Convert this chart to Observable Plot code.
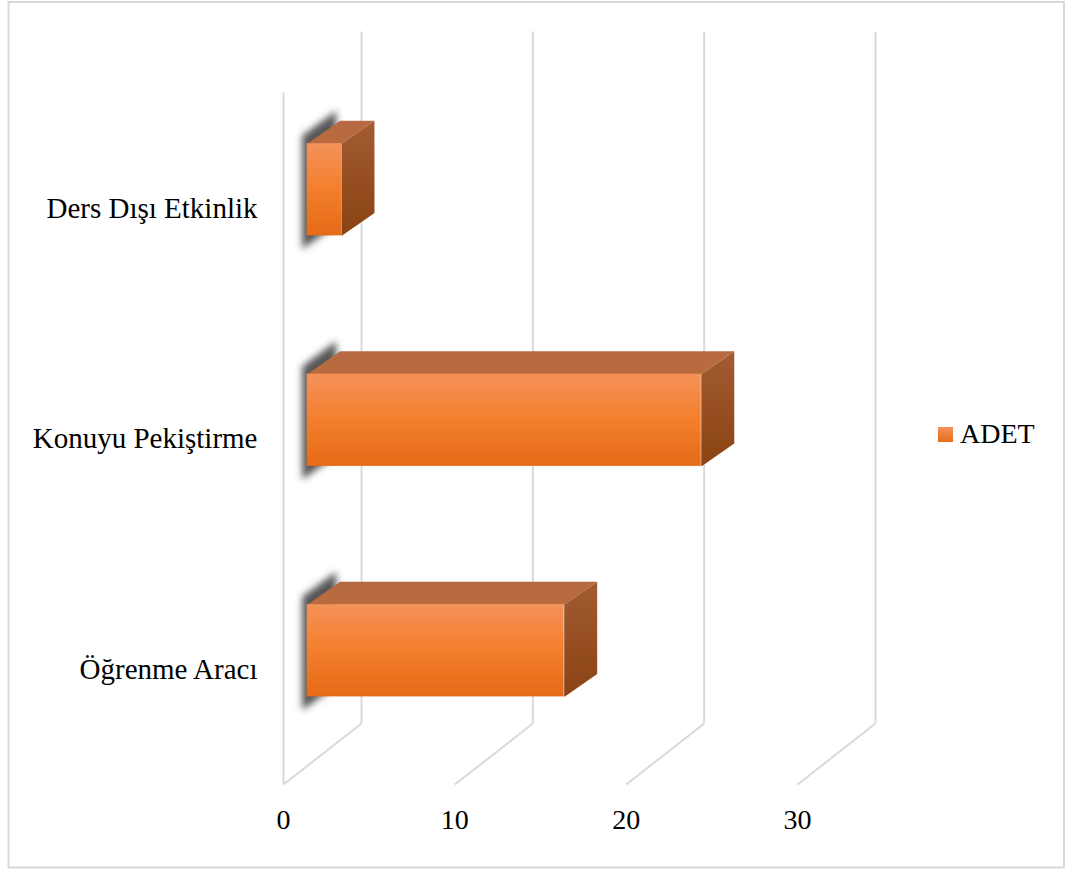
<!DOCTYPE html>
<html>
<head>
<meta charset="utf-8">
<script src="https://cdn.jsdelivr.net/npm/d3@7"></script>
<script src="https://cdn.jsdelivr.net/npm/@observablehq/plot@0.6"></script>
<style>
  html, body { margin: 0; padding: 0; background: #fff; }
  #chart { position: relative; width: 1066px; height: 870px; font-family: "Liberation Serif", "Times New Roman", serif; }
  #legend { position: absolute; left: 938px; top: 418px; display: flex; align-items: center; gap: 7px; font-size: 28px; color: #000; }
  #legend .swatch { width: 15px; height: 15px; background: linear-gradient(#F3915A, #E86D1B); }
</style>
</head>
<body>
<div id="chart">
  <div id="legend"><span class="swatch"></span><span class="name"></span></div>
</div>
<script>
// Categories and counts
const categories = ["Ders Dışı Etkinlik", "Konuyu Pekiştirme", "Öğrenme Aracı"];
const values = [2, 23, 15];
const seriesName = "ADET";
const xTicks = [0, 10, 20, 30];

// Oblique 3D projection: pixel offsets for the depth axis
const X_RANGE = [283, 797], X_DOMAIN = [0, 30];
const Y_RANGE = [207.8, 668.8], Y_DOMAIN = [0, 2];
const PX_X = (X_RANGE[1] - X_RANGE[0]) / (X_DOMAIN[1] - X_DOMAIN[0]);
const PX_Y = (Y_RANGE[1] - Y_RANGE[0]) / (Y_DOMAIN[1] - Y_DOMAIN[0]);
const WALL = [78, -61];        // back wall depth offset
const FRONT = [23.7, -18.5];   // bar front face depth offset
const BACK = [56.7, -41.5];    // bar back face depth offset
const HALF = 0.2;              // half bar thickness (rows)
const ROW_MIN = -0.5, ROW_MAX = 2.5;

const P = (value, row, off) => ({x: value + off[0] / PX_X, y: row + off[1] / PX_Y});

const rows = categories.map((cat, i) => ({cat, value: values[i], row: i}));

const topFaces = rows.flatMap(d => [
  P(0, d.row - HALF, FRONT), P(d.value, d.row - HALF, FRONT),
  P(d.value, d.row - HALF, BACK), P(0, d.row - HALF, BACK)
].map(p => ({...p, id: d.cat})));

const sideFaces = rows.flatMap(d => [
  P(d.value, d.row - HALF, FRONT), P(d.value, d.row - HALF, BACK),
  P(d.value, d.row + HALF, BACK), P(d.value, d.row + HALF, FRONT)
].map(p => ({...p, id: d.cat})));

// soft shadow cast to the left of each bar
const shadows = rows.flatMap(d => [
  P(0, d.row - HALF, [FRONT[0] - 5, FRONT[1] - 8]),
  P(0, d.row - HALF, [BACK[0] - 4, BACK[1] - 10]),
  P(0, d.row + HALF, [BACK[0] - 4, BACK[1] + 12]),
  P(0, d.row + HALF, [FRONT[0] - 5, FRONT[1] + 13])
].map(p => ({...p, id: d.cat})));

const defs = () => {
  const g = d3.create("svg:g");
  g.html(`
    <defs>
      <linearGradient id="gFront" x1="0" y1="0" x2="0" y2="1">
        <stop offset="0" stop-color="#F4925A"/>
        <stop offset="0.5" stop-color="#F47E2C"/>
        <stop offset="1" stop-color="#E46B18"/>
      </linearGradient>
      <linearGradient id="gTop" x1="0" y1="0" x2="0" y2="1">
        <stop offset="0" stop-color="#B66A42"/>
        <stop offset="1" stop-color="#BA6A3E"/>
      </linearGradient>
      <linearGradient id="gSide" x1="0" y1="0" x2="0" y2="1">
        <stop offset="0" stop-color="#A35B33"/>
        <stop offset="1" stop-color="#8A4312"/>
      </linearGradient>
      <filter id="shadowBlur" x="-60%" y="-60%" width="220%" height="220%">
        <feGaussianBlur stdDeviation="3.8"/>
      </filter>
    </defs>`);
  return g.node();
};

const gridStyle = {stroke: "#d9d9d9", strokeWidth: 2};

const plot = Plot.plot({
  width: 1066,
  height: 870,
  margin: 0,
  x: {domain: X_DOMAIN, range: X_RANGE, axis: null},
  y: {domain: Y_DOMAIN, range: Y_RANGE, axis: null},
  style: {fontFamily: "'Liberation Serif', 'Times New Roman', serif", color: "#000", background: "transparent"},
  marks: [
    defs,
    Plot.frame({stroke: "#d9d9d9", strokeWidth: 2, insetLeft: 8, insetTop: 1.5, insetRight: 2.5, insetBottom: 3}),
    // left wall edge
    Plot.ruleX([0], {x: d => d, y1: () => ROW_MIN, y2: () => ROW_MAX, ...gridStyle}),
    // back wall gridlines
    Plot.ruleX(xTicks, {
      x: t => P(t, 0, WALL).x,
      y1: () => P(0, ROW_MIN, WALL).y,
      y2: () => P(0, ROW_MAX, WALL).y,
      ...gridStyle
    }),
    // floor gridlines
    Plot.link(xTicks, {
      x1: t => t, y1: () => ROW_MAX,
      x2: t => P(t, ROW_MAX, WALL).x, y2: t => P(t, ROW_MAX, WALL).y,
      ...gridStyle
    }),
    // bar shadows (first line mark)
    Plot.line(shadows, {x: "x", y: "y", z: "id", curve: "linear-closed", fill: "#444", fillOpacity: 0.9, stroke: "none"}),
    // bar top faces
    Plot.line(topFaces, {x: "x", y: "y", z: "id", curve: "linear-closed", fill: "url(#gTop)", stroke: "none"}),
    // bar side faces
    Plot.line(sideFaces, {x: "x", y: "y", z: "id", curve: "linear-closed", fill: "url(#gSide)", stroke: "none"}),
    // bar front faces
    Plot.rect(rows, {
      x1: () => 0, x2: "value",
      y1: d => d.row - HALF, y2: d => d.row + HALF,
      dx: FRONT[0], dy: FRONT[1],
      fill: "url(#gFront)"
    }),
    // category labels
    Plot.text(rows, {x: () => 0, y: "row", text: "cat", textAnchor: "end", dx: -26, fontSize: 29, fill: "#000"}),
    // value axis labels
    Plot.text(xTicks, {x: t => t, y: () => ROW_MAX, text: t => String(t), dy: 35, fontSize: 28, fill: "#000"})
  ]
});

const lineGroups = plot.querySelectorAll('g[aria-label="line"]');
if (lineGroups.length) lineGroups[0].setAttribute("filter", "url(#shadowBlur)");

document.getElementById("chart").prepend(plot);
document.querySelector("#legend .name").textContent = seriesName;
</script>
</body>
</html>
